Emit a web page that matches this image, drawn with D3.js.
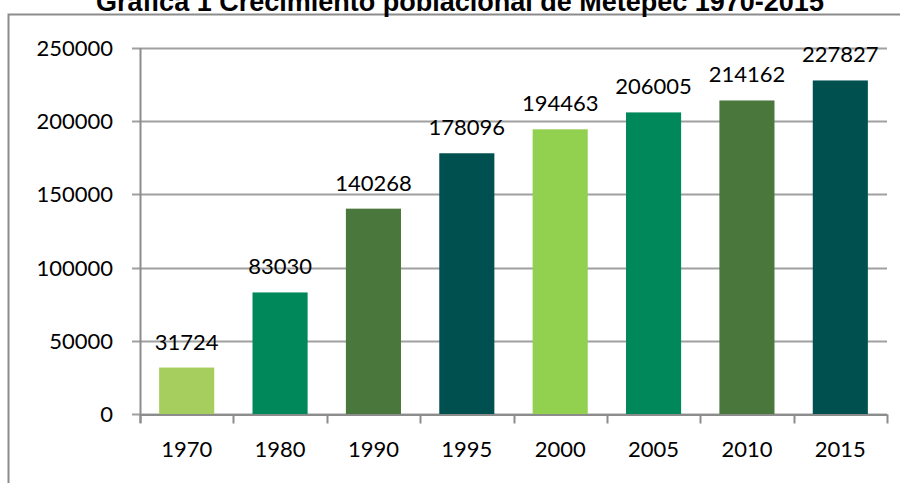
<!DOCTYPE html>
<html>
<head>
<meta charset="utf-8">
<script src="https://cdn.jsdelivr.net/npm/d3@7"></script>
<style>
  body { margin: 0; background: #fff; }
  svg { display: block; }
</style>
</head>
<body>
<script>
const years = ["1970", "1980", "1990", "1995", "2000", "2005", "2010", "2015"];
const population = [31724, 83030, 140268, 178096, 194463, 206005, 214162, 227827];
const yTicks = [0, 50000, 100000, 150000, 200000, 250000];
const barColors = ["#a6ce5f", "#00875a", "#4a773c", "#00504f", "#92d050", "#00875a", "#4a773c", "#00504f"];
const title = "Gráfica 1 Crecimiento poblacional de Metepec 1970-2015";

const width = 900, height = 483;
const margin = {left: 140, right: 13, top: 48, bottom: 69};

const svg = d3.select("body").append("svg")
    .attr("width", width)
    .attr("height", height);

// outer frame of the chart area
svg.append("rect")
    .attr("x", 8.5).attr("y", 14.5)
    .attr("width", 900).attr("height", 500)
    .attr("fill", "none")
    .attr("stroke", "#8c8c8c")
    .attr("stroke-width", 2);

// title sits above the frame and is partly cut by the top edge, as in the source
svg.append("text")
    .attr("x", 460)
    .attr("y", 11)
    .attr("text-anchor", "middle")
    .style("font-family", "'Liberation Sans', Arial, sans-serif")
    .style("font-weight", "bold")
    .style("font-size", "27px")
    .text(title);

const x = d3.scaleBand()
    .domain(years)
    .range([margin.left, width - margin.right])
    .paddingInner(0.41)
    .paddingOuter(0.205);

const y = d3.scaleLinear()
    .domain([0, 250000])
    .range([height - margin.bottom, margin.top]);

const font = "Lato, 'Open Sans', sans-serif";

// gridlines
svg.append("g")
    .selectAll("line")
    .data(yTicks)
    .join("line")
    .attr("x1", margin.left - 8)
    .attr("x2", width - margin.right)
    .attr("y1", d => Math.round(y(d)) + 0.5)
    .attr("y2", d => Math.round(y(d)) + 0.5)
    .attr("stroke", "#a0a0a0")
    .attr("stroke-width", 2);

// y axis labels
svg.append("g")
    .selectAll("text")
    .data(yTicks)
    .join("text")
    .attr("x", 113)
    .attr("y", d => y(d) + 8)
    .attr("text-anchor", "end")
    .style("font-family", font)
    .style("font-size", "22px")
    .text(d => d);

// bars
svg.append("g")
    .selectAll("rect")
    .data(population)
    .join("rect")
    .attr("x", (d, i) => x(years[i]))
    .attr("width", x.bandwidth())
    .attr("y", d => y(d))
    .attr("height", d => y(0) - y(d))
    .attr("fill", (d, i) => barColors[i]);

// value labels
svg.append("g")
    .selectAll("text")
    .data(population)
    .join("text")
    .attr("x", (d, i) => x(years[i]) + x.bandwidth() / 2)
    .attr("y", d => y(d) - 18)
    .attr("text-anchor", "middle")
    .style("font-family", font)
    .style("font-size", "22px")
    .text(d => d);

// y axis line
svg.append("line")
    .attr("x1", margin.left + 0.5).attr("x2", margin.left + 0.5)
    .attr("y1", margin.top).attr("y2", y(0) + 9)
    .attr("stroke", "#8c8c8c").attr("stroke-width", 2);

// x axis
const xAxis = d3.axisBottom(x).tickSize(0).tickPadding(27);
const gx = svg.append("g")
    .attr("transform", `translate(0,${Math.round(y(0)) + 0.5})`)
    .call(xAxis);
gx.select(".domain")
    .attr("stroke", "#8c8c8c").attr("stroke-width", 2);
gx.selectAll("text")
    .style("font-family", font)
    .style("font-size", "22px")
    .attr("fill", "#000");

// boundary ticks between categories
const bounds = d3.range(years.length + 1).map(i => margin.left + i * (width - margin.left - margin.right) / years.length);
gx.append("g")
    .selectAll("line")
    .data(bounds)
    .join("line")
    .attr("x1", d => Math.round(d) + 0.5)
    .attr("x2", d => Math.round(d) + 0.5)
    .attr("y1", 0).attr("y2", 9)
    .attr("stroke", "#8c8c8c").attr("stroke-width", 2);
</script>
</body>
</html>
